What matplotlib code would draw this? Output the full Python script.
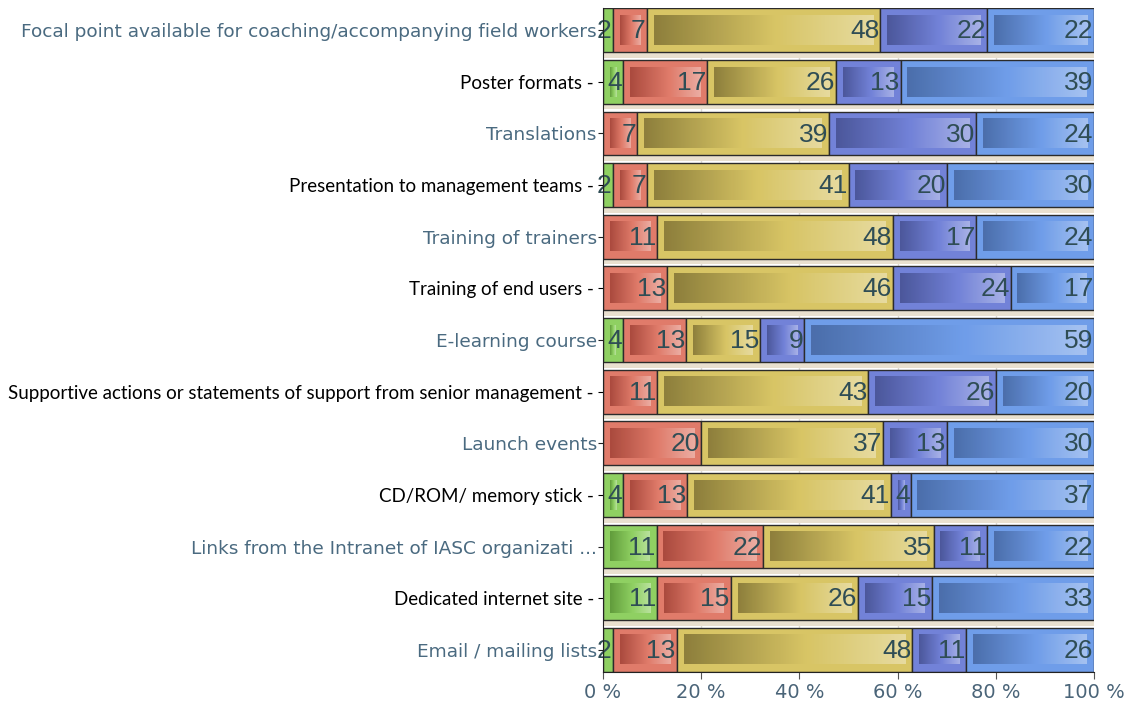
import numpy as np
import matplotlib
matplotlib.use("Agg")
import matplotlib.pyplot as plt
from matplotlib.patches import Rectangle
from matplotlib.colors import to_rgb
from matplotlib import font_manager

# Categories from top to bottom
categories = [
    "Focal point available for coaching/accompanying field workers",
    "Poster formats",
    "Translations",
    "Presentation to management teams",
    "Training of trainers",
    "Training of end users",
    "E-learning course",
    "Supportive actions or statements of support from senior management",
    "Launch events",
    "CD/ROM/ memory stick",
    "Links from the Intranet of IASC organizati ...",
    "Dedicated internet site",
    "Email / mailing lists",
]
# Which labels use the plain black style (the others are grey-blue)
plain_style = [False, True, False, True, False, True, False, True, False, True, False, True, False]

# Five response series (percent), same order as categories
s1 = [2, 4, 0, 2, 0, 0, 4, 0, 0, 4, 11, 11, 2]
s2 = [7, 17, 7, 7, 11, 13, 13, 11, 20, 13, 22, 15, 13]
s3 = [48, 26, 39, 41, 48, 46, 15, 43, 37, 41, 35, 26, 48]
s4 = [22, 13, 30, 20, 17, 24, 9, 26, 13, 4, 11, 15, 11]
s5 = [22, 39, 24, 30, 24, 17, 59, 20, 30, 37, 22, 33, 26]

x_ticks = [0, 20, 40, 60, 80, 100]
x_tick_labels = ["0 %", "20 %", "40 %", "60 %", "80 %", "100 %"]

series = [s1, s2, s3, s4, s5]
base_colors = ["#8fd062", "#e07b6a", "#d8c565", "#7282d8", "#6f9de9"]
dark_colors = ["#5f9a3a", "#a8483c", "#8a7c3a", "#4a5598", "#4a6ca8"]

available = {f.name for f in font_manager.fontManager.ttflist}
num_family = "Liberation Sans Narrow" if "Liberation Sans Narrow" in available else "Liberation Sans"
num_size = 22 if num_family == "Liberation Sans Narrow" else 19

fig = plt.figure(figsize=(11.35, 7.04), dpi=100)
ax = fig.add_axes([0.5313, 0.0455, 0.4326, 0.9431])

n = len(categories)
ypos = np.arange(n)[::-1]  # first category on top
bar_h = 0.85
label_color = "#2f4d55"

# vertical grid lines
for gx in x_ticks[1:-1]:
    ax.axvline(gx, color="#dedbd5", lw=1.0, zorder=0)

def lighten(c, f):
    r = np.array(to_rgb(c))
    return tuple(r + (1 - r) * f)

for i in range(n):
    vals = np.array([s[i] for s in series], dtype=float)
    widths = vals / vals.sum() * 100.0
    y = ypos[i]
    # soft shadow under each bar
    ax.add_patch(Rectangle((0.3, y - bar_h / 2 - 0.11), 100, 0.11,
                           facecolor="#e9e0cf", edgecolor="none", zorder=1))
    left = 0.0
    for k, (w, v) in enumerate(zip(widths, vals)):
        if v <= 0:
            continue
        ax.add_patch(Rectangle((left, y - bar_h / 2), w, bar_h,
                               facecolor=base_colors[k], edgecolor="#2b2b2b",
                               lw=1.0, zorder=3))
        # inner horizontal gradient: dark on the left, light on the right
        mx = 1.4
        my = 0.14
        if w > 2 * mx + 0.3:
            ncol = 64
            t = np.linspace(0, 1, ncol)
            c0 = np.array(to_rgb(dark_colors[k]))
            c1 = np.array(to_rgb(base_colors[k]))
            c2 = np.array(lighten(base_colors[k], 0.4))
            grad = np.zeros((1, ncol, 4))
            for j, tt in enumerate(t):
                if tt < 0.55:
                    col = c0 + (c1 - c0) * (tt / 0.55)
                else:
                    col = c1 + (c2 - c1) * ((tt - 0.55) / 0.45)
                grad[0, j, :3] = col
                grad[0, j, 3] = 0.95
            ax.imshow(grad, extent=[left + mx, left + w - mx,
                                    y - bar_h / 2 + my, y + bar_h / 2 - my],
                      aspect="auto", interpolation="bilinear", zorder=4)
        ax.text(left + w - 0.2, y - 0.02, f"{int(v)}", ha="right", va="center",
                fontsize=num_size, color=label_color, family=num_family,
                zorder=6)
        left += w

ax.set_xlim(0, 100)
ax.set_ylim(-0.5 + (1 - bar_h) / 2 - 0.005, n - 0.5 - (1 - bar_h) / 2 + 0.005)
ax.set_aspect("auto")

ax.set_xticks(x_ticks)
ax.set_xticklabels(x_tick_labels, fontsize=14, color="#4a6478",
                   family="DejaVu Sans")
ax.tick_params(axis="x", length=5, color="#555555", pad=3)

ax.set_yticks(ypos)
ax.set_yticklabels([c + " -" if p else c for c, p in zip(categories, plain_style)])
for tick, lab, p in zip(ax.yaxis.get_major_ticks(), ax.get_yticklabels(), plain_style):
    if p:
        lab.set_fontfamily("Lato")
        lab.set_fontsize(13.5)
        lab.set_color("#000000")
        tick.tick1line.set_markersize(0)
        tick.set_pad(3)
    else:
        lab.set_fontfamily("DejaVu Sans")
        lab.set_fontsize(13.3)
        lab.set_color("#4a6a80")
        tick.tick1line.set_markersize(10)
        tick.tick1line.set_markeredgecolor("#222222")
        tick.set_pad(1)

for side in ["top", "right"]:
    ax.spines[side].set_visible(False)
ax.spines["left"].set_color("#222222")
ax.spines["bottom"].set_color("#222222")
ax.spines["left"].set_zorder(7)
ax.spines["bottom"].set_zorder(7)

fig.savefig("out.png", dpi=100)
